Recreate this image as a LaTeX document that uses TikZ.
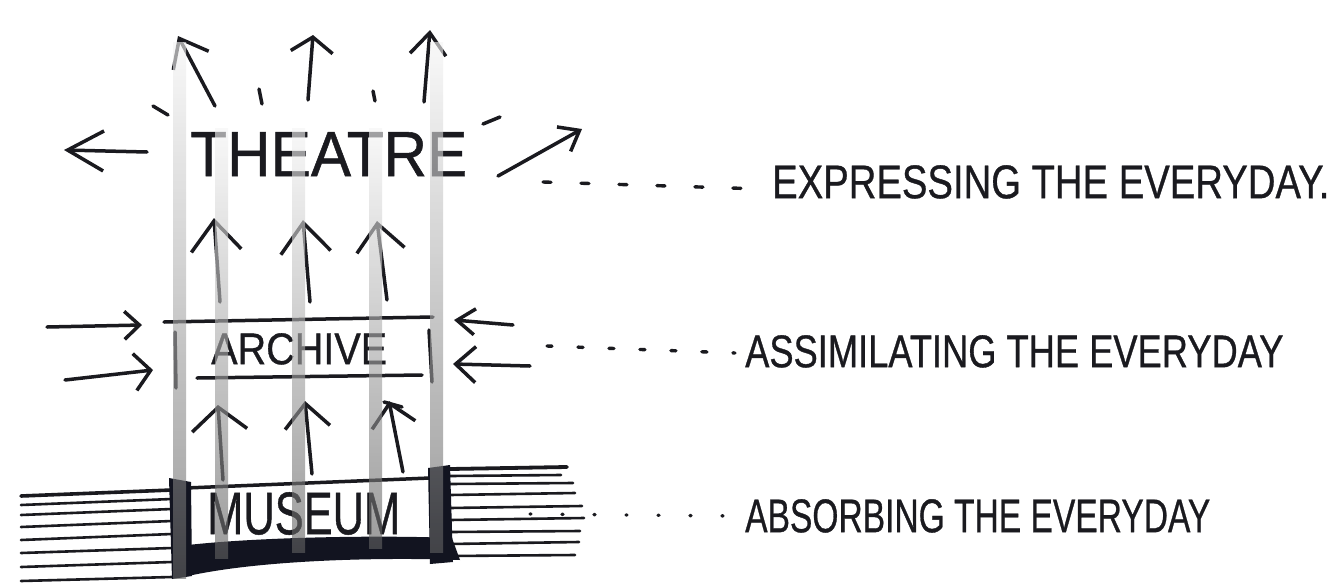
\documentclass[tikz,border=0pt]{standalone}
\usepackage{fontspec}
\setmainfont{Liberation Sans}
\newfontfamily\hand{Liberation Sans}[FakeBold=0.8]
\usetikzlibrary{arrows.meta}
\definecolor{inkc}{HTML}{1A1A1F}
\definecolor{slab}{HTML}{121420}
\newcommand\fitbox[3]{\resizebox{#1pt}{#2pt}{\hand #3}}
\begin{document}
\begin{tikzpicture}[x=1pt,y=-1pt,
  ink/.style={draw=inkc, line width=3.5pt, line cap=round, line join=round},
  hatch/.style={draw=inkc, line width=2.6pt, line cap=round},
  dotline/.style={draw=inkc, line width=3.4pt, line cap=round},
  lbl/.style={anchor=north west, inner sep=0pt, text=inkc},
  bar/.style={top color=black!4, bottom color=black!62, fill opacity=0.62, draw=none},
  wall/.style={fill=slab, draw=none}]
\useasboundingbox[fill=white] (0,0) rectangle (1342,587);

% ---- text nodes
\node[lbl] (theatre) at (190,132) {\fitbox{277}{44}{THEATRE}};
\node[lbl] (archive) at (211,333) {\fitbox{176}{31}{ARCHIVE}};
\node[lbl] (museum)  at (207,492) {\fitbox{193}{42}{MUSEUM}};
\node[lbl] (expr)   at (772,165) {\fitbox{557}{33}{EXPRESSING THE EVERYDAY.}};
\node[lbl] (assim)  at (745,335) {\fitbox{538}{32}{ASSIMILATING THE EVERYDAY}};
\node[lbl] (absorb) at (745,499) {\fitbox{465}{33}{ABSORBING THE EVERYDAY}};

% ---- coordinates for free arrows
\coordinate (t1a) at (215,106); \coordinate (t1b) at (178,36);
\coordinate (t2a) at (308,100); \coordinate (t2b) at (313,35);
\coordinate (t3a) at (424,102); \coordinate (t3b) at (430,30);
\coordinate (lta) at (147,152); \coordinate (ltb) at (64,150);
\coordinate (nea) at (498,176); \coordinate (neb) at (582,129);
\coordinate (maa) at (220,302); \coordinate (mab) at (214,218);
\coordinate (mba) at (310,302); \coordinate (mbb) at (303,220);
\coordinate (mca) at (387,300); \coordinate (mcb) at (377,221);
\coordinate (l1a) at (47,327);  \coordinate (l1b) at (142,325);
\coordinate (l2a) at (65,380);  \coordinate (l2b) at (153,370);
\coordinate (r1a) at (513,325); \coordinate (r1b) at (454,320);
\coordinate (r2a) at (530,366); \coordinate (r2b) at (453,364);
\coordinate (lda) at (223,480); \coordinate (ldb) at (218,405);
\coordinate (lea) at (312,474); \coordinate (leb) at (305,401);
\coordinate (lfa) at (403,472); \coordinate (lfb) at (389,401);

% ---- rays around THEATRE
\draw[ink, -{Straight Barb[length=25pt,width=40pt]}] (t1a) -- (t1b);
\draw[ink, -{Straight Barb[length=15pt,width=42pt]}] (t2a) -- (t2b);
\draw[ink, -{Straight Barb[length=22pt,width=36pt]}] (t3a) -- (t3b);
\draw[ink, -{Straight Barb[length=36pt,width=40pt]}] (lta) -- (ltb);
\draw[ink, -{Straight Barb[length=18pt,width=28pt]}] (nea) -- (neb);
\coordinate (k1a) at (153,106); \coordinate (k1b) at (168,115);
\coordinate (k2a) at (259,89);  \coordinate (k2b) at (262,104);
\coordinate (k3a) at (373,91);  \coordinate (k3b) at (375,101);
\coordinate (k4a) at (483,124); \coordinate (k4b) at (500,117);
\draw[ink] (k1a) -- (k1b);
\draw[ink] (k2a) -- (k2b);
\draw[ink] (k3a) -- (k3b);
\draw[ink] (k4a) -- (k4b);

% ---- arrows from ARCHIVE up
\draw[ink, -{Straight Barb[length=30pt,width=50pt]}] (maa) -- (mab);
\draw[ink, -{Straight Barb[length=30pt,width=50pt]}] (mba) -- (mbb);
\draw[ink, -{Straight Barb[length=27pt,width=48pt]}] (mca) -- (mcb);

% ---- ARCHIVE frame
\coordinate (at1) at (164,322); \coordinate (at2) at (433,317);
\coordinate (ab1) at (197,378); \coordinate (ab2) at (422,375);
\coordinate (al1) at (175,332); \coordinate (al2) at (176,388);
\coordinate (ar1) at (429,330); \coordinate (ar2) at (432,382);
\draw[ink] (at1) -- (at2);
\draw[ink] (ab1) -- (ab2);
\draw[ink] (al1) -- (al2);
\draw[ink] (ar1) -- (ar2);
\draw[ink, -{Straight Barb[length=15pt,width=28pt]}] (l1a) -- (l1b);
\draw[ink, -{Straight Barb[length=16pt,width=37pt]}] (l2a) -- (l2b);
\draw[ink, -{Straight Barb[length=18pt,width=26pt]}] (r1a) -- (r1b);
\draw[ink, -{Straight Barb[length=20pt,width=36pt]}] (r2a) -- (r2b);

% ---- arrows from MUSEUM up
\draw[ink, -{Straight Barb[length=23pt,width=55pt]}] (lda) -- (ldb);
\draw[ink, -{Straight Barb[length=24pt,width=45pt]}] (lea) -- (leb);
\draw[ink, -{Straight Barb[length=22pt,width=44pt]}] (lfa) -- (lfb);
\coordinate (fx1) at (384,402); \coordinate (fx2) at (402,407);
\draw[ink] (fx1) -- (fx2);

% ---- MUSEUM ground
\foreach \ya/\yb/\w in {496/490/3.6, 505/499/2.6, 515/509/2.6, 527/521/2.6, 540/534/2.6, 553/548/2.6, 567/562/2.6, 581/577/2.6}
  \draw[hatch, line width=\w pt] (21,\ya) -- (172,\yb);
\foreach \ya/\yb/\xe/\w in {469/467/567/3.8, 476/475/561/2.6, 484/483/573/2.6, 495/493/575/2.6, 508/506/582/2.6, 520/518/584/2.6, 532/531/580/2.6, 544/542/579/2.6, 556/555/575/2.6}
  \draw[hatch, line width=\w pt] (450,\ya) -- (\xe,\yb);
\coordinate (mt1) at (186,488); \coordinate (mt2) at (430,478);
\draw[ink] (mt1) -- (mt2);
\fill[wall] (169,478) -- (191,482) -- (192,576) -- (172,579) -- cycle;
\fill[wall] (428,468) -- (450,465) -- (453,562) -- (430,564) -- cycle;
\fill[wall] (188,545) .. controls (260,537) and (380,535) .. (452,538)
   -- (460,560) .. controls (380,557) and (260,560) .. (188,576) -- cycle;

% ---- leader dots
\coordinate (d1a) at (543,182); \coordinate (d1b) at (762,189);
\coordinate (d2a) at (547,346); \coordinate (d2b) at (735,353);
\coordinate (d3a) at (530,514); \coordinate (d3b) at (730,516);
\draw[dotline, dash pattern=on 8pt off 30pt] (d1a) -- (d1b);
\draw[dotline, dash pattern=on 5pt off 26pt] (d2a) -- (d2b);
\draw[dotline, dash pattern=on 1pt off 31pt] (d3a) -- (d3b);

% ---- translucent gray shafts
\foreach \xa/\ya/\yb in {173/42/578, 215/128/558, 292/128/552, 369/128/548, 430/42/552}
  \shade[bar] (\xa,\ya) rectangle (\xa+13,\yb);
\end{tikzpicture}
\end{document}
